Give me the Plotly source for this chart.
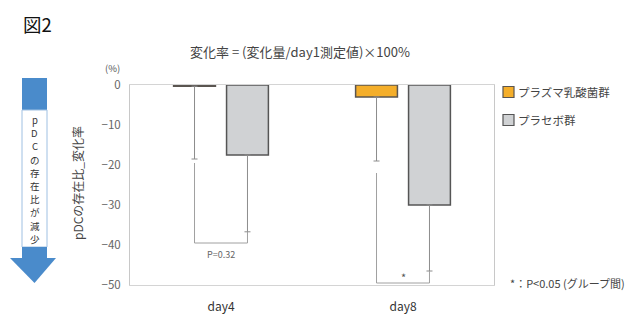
import plotly.graph_objects as go

categories = ["day4", "day8"]
plasma_values = [-0.3, -3.0]
placebo_values = [-17.5, -30.0]
plasma_err_minus = [18.2, 16.0]
placebo_err_minus = [19.2, 16.5]
series_names = ["プラズマ乳酸菌群", "プラセボ群"]
p_labels = ["P=0.32", "*"]
yticks = [0, -10, -20, -30, -40, -50]

FONT = "Noto Sans CJK JP"
W, H = 634, 333
L, R, T, B = 130, 140, 85, 48
PW, PH = W - L - R, H - T - B

orange = "#F4AE2A"
gray_fill = "#D0D2D4"
orange_line = "#5a5550"
gray_line = "#555555"


def px(x):
    return (x - L) / PW


def py(y):
    return (H - B - y) / PH


def note(x, y, text, size, color, **kw):
    d = dict(x=px(x), y=py(y), xref="paper", yref="paper", text=text, showarrow=False,
             xanchor=kw.pop("xanchor", "center"), yanchor=kw.pop("yanchor", "middle"),
             font=dict(family=FONT, size=size, color=color))
    d.update(kw)
    return d


fig = go.Figure()
fig.add_trace(go.Bar(
    x=categories, y=plasma_values, name=series_names[0], showlegend=False,
    marker=dict(color=orange, line=dict(color=orange_line, width=1.5)),
    error_y=dict(type="data", symmetric=False, array=[0, 0], arrayminus=plasma_err_minus,
                 color="#8c8c8c", thickness=1, width=3),
))
fig.add_trace(go.Bar(
    x=categories, y=placebo_values, name=series_names[1], showlegend=False,
    marker=dict(color=gray_fill, line=dict(color=gray_line, width=1.5)),
    error_y=dict(type="data", symmetric=False, array=[0, 0], arrayminus=placebo_err_minus,
                 color="#8c8c8c", thickness=1, width=3),
))

bargap = 0.418
off = (1 - bargap) / 4  # center offset of each bar in a group of two

shapes = []
annotations = []
# significance brackets
bracket_spec = [
    (plasma_values[0] - plasma_err_minus[0] - 1.0, -39.5, placebo_values[0] - placebo_err_minus[0]),
    (plasma_values[1] - plasma_err_minus[1] - 3.0, -49.5, placebo_values[1] - placebo_err_minus[1]),
]
for i, (ys, yb, ye) in enumerate(bracket_spec):
    x0, x1 = i - off, i + off
    shapes.append(dict(type="path", xref="x", yref="y",
                       path=f"M {x0},{ys} L {x0},{yb} L {x1},{yb} L {x1},{ye}",
                       line=dict(color="#a0a0a0", width=1)))
annotations.append(dict(x=0, y=-42.3, xref="x", yref="y", text=p_labels[0], showarrow=False,
                        font=dict(family=FONT, size=9, color="#666")))
annotations.append(dict(x=1, y=-48.0, xref="x", yref="y", text=p_labels[1], showarrow=False,
                        font=dict(family=FONT, size=11, color="#555")))

# blue arrow (left decoration)
blue = "#4A8BCB"
shapes.append(dict(type="rect", xref="paper", yref="paper", x0=px(22), x1=px(47), y0=py(110), y1=py(78),
                   fillcolor=blue, line=dict(width=0)))
shapes.append(dict(type="rect", xref="paper", yref="paper", x0=px(22), x1=px(47), y0=py(247), y1=py(110),
                   fillcolor="white", line=dict(color="#9fc0e2", width=1)))
shapes.append(dict(type="rect", xref="paper", yref="paper", x0=px(22), x1=px(47), y0=py(258), y1=py(247),
                   fillcolor=blue, line=dict(width=0)))
shapes.append(dict(type="path", xref="paper", yref="paper",
                   path=f"M {px(10)},{py(258)} L {px(56)},{py(258)} L {px(34.5)},{py(283)} Z",
                   fillcolor=blue, line=dict(width=0)))
arrow_text = list("pDCの存在比が減少")
for k, ch in enumerate(arrow_text):
    annotations.append(note(34.5, 120 + k * 13.2, ch, 9.5, "#333"))

# legend (manual)
legend_rows = [(92, orange, orange_line), (120, gray_fill, gray_line)]
for (yy, fc, lc), name in zip(legend_rows, series_names):
    shapes.append(dict(type="rect", xref="paper", yref="paper", x0=px(503), x1=px(514),
                       y0=py(yy + 5.5), y1=py(yy - 5.5), fillcolor=fc, line=dict(color=lc, width=1.2)))
    annotations.append(note(516, yy, name, 11.5, "#444", xanchor="left"))

# texts
annotations.append(note(21, 24, "図2", 18.5, "#111", xanchor="left"))
annotations.append(note(300, 51, "変化率 = (変化量/day1測定値)×100%", 13, "#444"))
annotations.append(note(122, 68, "(%)", 9.5, "#555", xanchor="right"))
annotations.append(note(77, 183, "pDCの存在比_変化率", 12, "#444", textangle=-90))
annotations.append(note(508, 283, "*：P<0.05 (グループ間)", 11, "#444", xanchor="left"))

fig.update_layout(
    width=W, height=H,
    margin=dict(l=L, r=R, t=T, b=B),
    paper_bgcolor="white", plot_bgcolor="white",
    barmode="group", bargap=bargap, bargroupgap=0.21,
    showlegend=False,
    shapes=shapes, annotations=annotations,
    xaxis=dict(showline=True, linecolor="#d4d4d4", mirror=True, showgrid=False,
               tickfont=dict(family=FONT, size=12, color="#333"), ticks="", ticklabelstandoff=11),
    yaxis=dict(range=[-50, 0], tickvals=yticks, showline=True, linecolor="#c8c8c8", mirror=True,
               showgrid=False, zeroline=False, ticks="", ticklabelstandoff=6,
               tickfont=dict(family=FONT, size=11.5, color="#666")),
    font=dict(family=FONT),
)

fig.write_html("out.html")
